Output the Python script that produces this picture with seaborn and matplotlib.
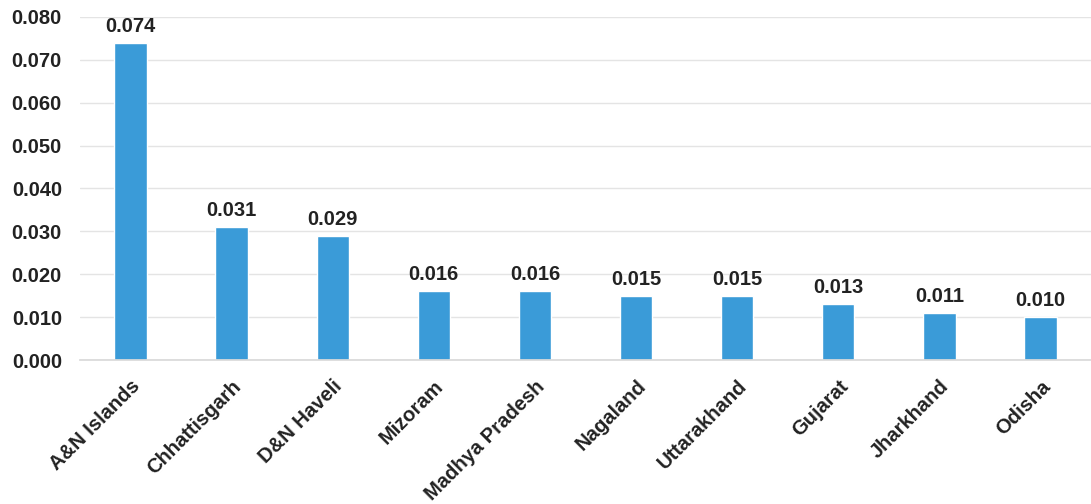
import matplotlib
matplotlib.use("Agg")
import matplotlib.pyplot as plt
import seaborn as sns
import pandas as pd

states = ["A&N Islands", "Chhattisgarh", "D&N Haveli", "Mizoram", "Madhya Pradesh",
          "Nagaland", "Uttarakhand", "Gujarat", "Jharkhand", "Odisha"]
values = [0.074, 0.031, 0.029, 0.016, 0.016, 0.015, 0.015, 0.013, 0.011, 0.010]
y_ticks = [0.000, 0.010, 0.020, 0.030, 0.040, 0.050, 0.060, 0.070, 0.080]

sns.set_theme(style="white")
plt.rcParams["font.family"] = ["Liberation Sans", "DejaVu Sans"]

df = pd.DataFrame({"state": states, "value": values})

fig = plt.figure(figsize=(10.91, 5.04), dpi=100)
ax = fig.add_axes([0.0733, 0.2857, 0.9267, 0.6806])

sns.barplot(data=df, x="state", y="value", color="#3a9bd8", width=0.32,
            saturation=1, ax=ax)

ax.set_ylim(0, 0.08)
ax.set_yticks(y_ticks)
ax.set_yticklabels([f"{t:.3f}" for t in y_ticks], fontsize=14.5, fontweight="bold",
                   color="#222222")
ax.yaxis.grid(True, color="#e4e4e4", linewidth=1)
ax.set_axisbelow(True)
ax.set_xlim(-0.5, len(states) - 0.5)

ax.set_xticks(range(len(states)))
ax.set_xticklabels(states, rotation=45, ha="right", rotation_mode="anchor",
                   fontsize=14.5, fontweight="bold", color="#222222")
ax.tick_params(axis="x", length=0, pad=12)
ax.tick_params(axis="y", length=0, pad=13)

for side in ["top", "right", "left"]:
    ax.spines[side].set_visible(False)
ax.spines["bottom"].set_color("#d9d9d9")

for i, v in enumerate(values):
    ax.annotate(f"{v:.3f}", xy=(i, v), xytext=(0, 5), textcoords="offset points",
                ha="center", va="bottom", fontsize=14.5, fontweight="bold",
                color="#222222")

ax.set_xlabel("")
ax.set_ylabel("")

fig.savefig("out.png", dpi=100)
